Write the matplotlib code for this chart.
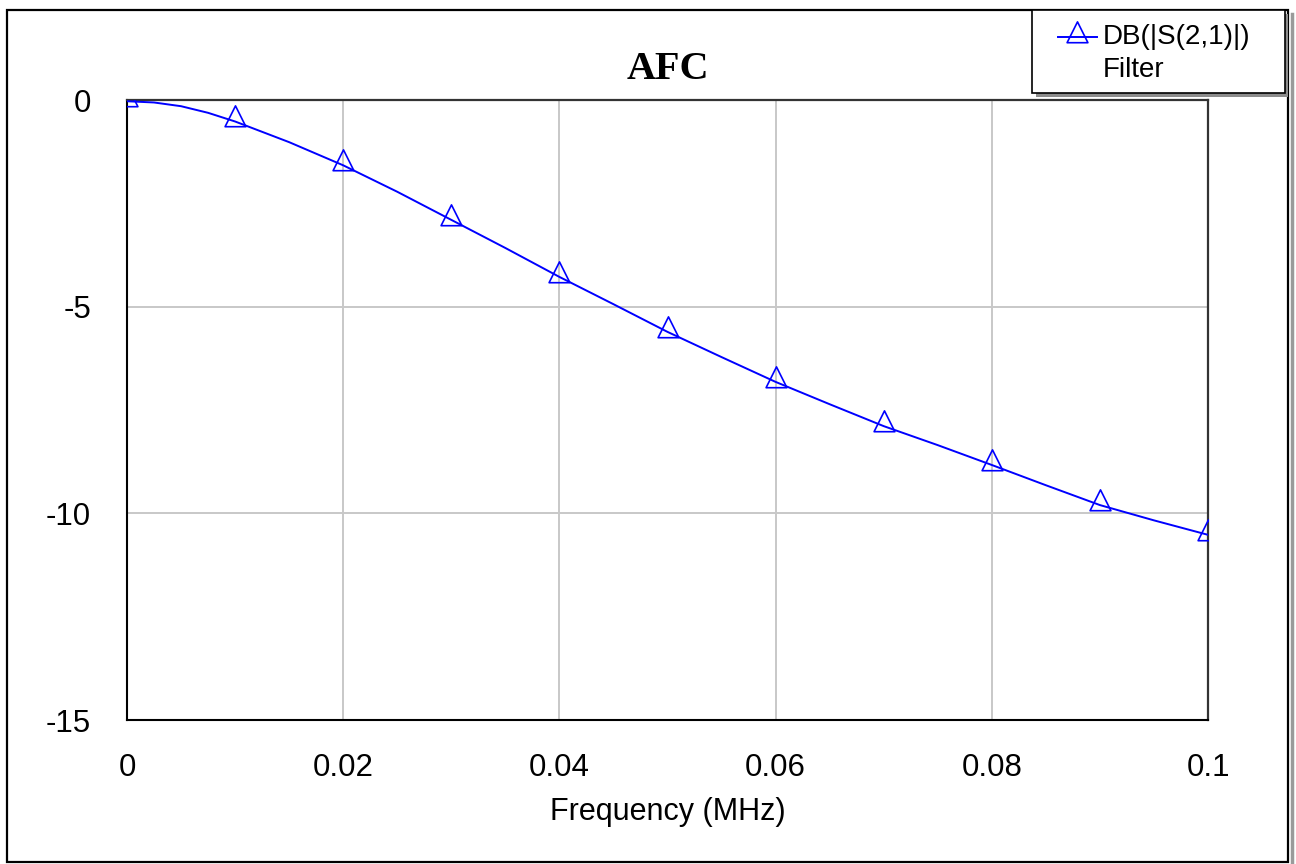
import matplotlib
matplotlib.use("Agg")
import matplotlib.pyplot as plt
from matplotlib.path import Path
from matplotlib.patches import Rectangle
from matplotlib.lines import Line2D

# |S21| of the filter
freq = [0.0, 0.0025, 0.005, 0.0075, 0.01, 0.015, 0.02, 0.025, 0.03, 0.035, 0.04,
        0.045, 0.05, 0.055, 0.06, 0.065, 0.07, 0.075, 0.08, 0.085, 0.09, 0.095, 0.1]
s21_db = [-0.03, -0.06, -0.15, -0.31, -0.52, -1.02, -1.58, -2.22, -2.90, -3.58, -4.28,
          -4.94, -5.61, -6.22, -6.82, -7.36, -7.89, -8.35, -8.83, -9.32, -9.80, -10.17, -10.52]
xticks = [0, 0.02, 0.04, 0.06, 0.08, 0.1]
xticklabels = ["0", "0.02", "0.04", "0.06", "0.08", "0.1"]
yticks = [0, -5, -10, -15]
series_name = "DB(|S(2,1)|)"
doc_name = "Filter"

# markers only every 0.01 MHz
marks = [i for i, f in enumerate(freq) if abs(f * 100 - round(f * 100)) < 1e-9]

# AWR style triangle, the trace goes through its lower part
tri = Path([(0, 1.5), (-1, -0.5), (1, -0.5), (0, 1.5)], closed=True)

plt.rcParams['font.family'] = ['Liberation Sans', 'DejaVu Sans']
plt.rcParams['axes.unicode_minus'] = False

fig = plt.figure(figsize=(12.96, 8.64), dpi=100)
W, H = 1296, 864
ax = fig.add_axes([127 / W, 1 - 720 / H, (1208 - 127) / W, (720 - 100) / H])
ax.set_zorder(1)

ax.plot(freq, s21_db, color='#0000ff', lw=1.4, marker=tri, markevery=marks,
        markersize=22.5, markerfacecolor='none', markeredgecolor='#0000ff',
        markeredgewidth=1.2, zorder=3)

ax.set_xlim(0, 0.1)
ax.set_ylim(-15, 0)
ax.set_xticks(xticks)
ax.set_xticklabels(xticklabels)
ax.set_yticks(yticks)
ax.tick_params(length=0, labelsize=22.5, colors='black')
ax.tick_params(axis='x', pad=24)
ax.tick_params(axis='y', pad=26)
ax.grid(True, color='#c8c8c8', lw=1.4)
ax.set_axisbelow(True)
for side in ['left', 'bottom']:
    ax.spines[side].set_color('black')
    ax.spines[side].set_linewidth(1.5)
for side in ['top', 'right']:
    ax.spines[side].set_color('#333333')
    ax.spines[side].set_linewidth(1.6)

ax.set_xlabel("Frequency (MHz)", fontsize=22, labelpad=10)
ax.set_title("AFC", fontsize=29, fontweight='bold', family='Liberation Serif', pad=15)

# outer frame, shadow on the right
fig.add_artist(Line2D([1291.5 / W, 1291.5 / W], [0, 1 - 14 / H], transform=fig.transFigure,
                      color='#9a9a9a', lw=2.5, zorder=0))
fig.add_artist(Rectangle((7 / W, 1 - 862 / H), (1288 - 7) / W, (862 - 10) / H,
                         transform=fig.transFigure, facecolor='none',
                         edgecolor='black', lw=1.6, zorder=0.5))

# legend box
fig.add_artist(Rectangle((1036 / W, 1 - 97 / H), (1288 - 1036) / W, (97 - 14) / H,
                         transform=fig.transFigure, facecolor='#8c8c8c',
                         edgecolor='none', zorder=5))
fig.add_artist(Rectangle((1032 / W, 1 - 93 / H), (1285 - 1032) / W, (93 - 10) / H,
                         transform=fig.transFigure, facecolor='white',
                         edgecolor='black', lw=1.2, zorder=6))
fig.add_artist(Line2D([1058 / W, 1097 / W], [1 - 37 / H, 1 - 37 / H],
                      transform=fig.transFigure, color='#0000ff', lw=1.4, zorder=7))
fig.add_artist(Line2D([1077 / W], [1 - 37 / H], transform=fig.transFigure,
                      linestyle='none', marker=tri, markersize=22.5,
                      markerfacecolor='none', markeredgecolor='#0000ff',
                      markeredgewidth=1.2, zorder=7))
fig.text(1103 / W, 1 - 37 / H, series_name, fontsize=20, va='center', ha='left', zorder=7)
fig.text(1103 / W, 1 - 70 / H, doc_name, fontsize=20, va='center', ha='left', zorder=7)

fig.savefig("out.png", dpi=100)
